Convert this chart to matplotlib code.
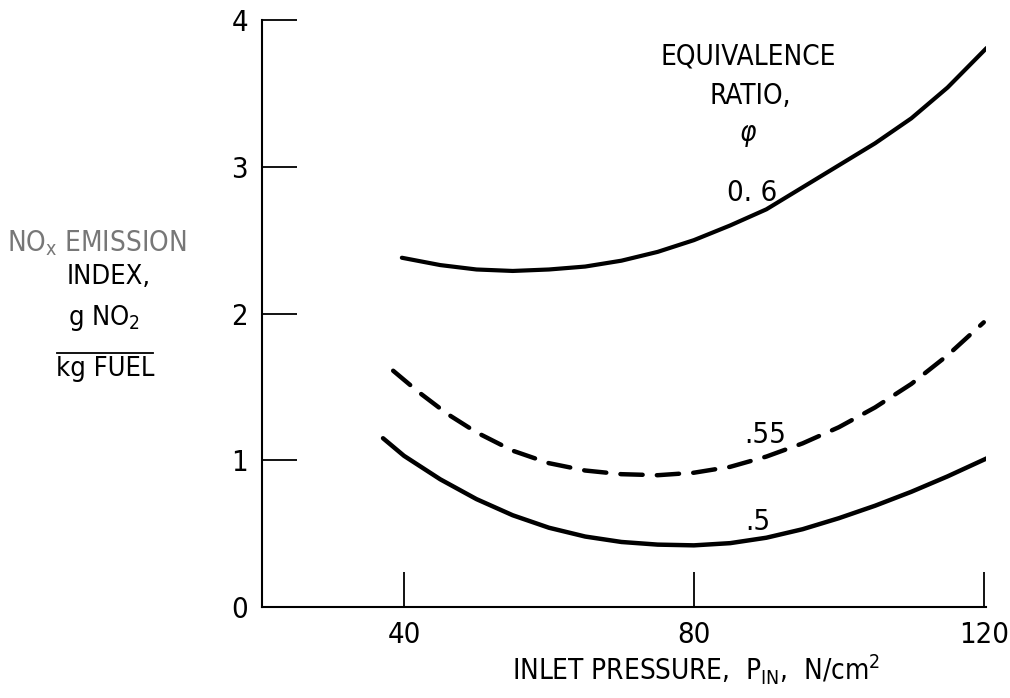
import matplotlib
matplotlib.use('Agg')
import matplotlib.pyplot as plt

plt.rcParams['font.family'] = ['DejaVu Sans']
plt.rcParams['font.stretch'] = 'condensed'
plt.rcParams['mathtext.fontset'] = 'custom'
plt.rcParams['mathtext.rm'] = 'DejaVu Sans:stretch=condensed'
plt.rcParams['mathtext.it'] = 'DejaVu Sans:italic:stretch=condensed'

# equivalence ratio 0.5 (solid)
p_05 = [37.1, 40, 45, 50, 55, 60, 65, 70, 75, 80, 85, 90, 95, 100, 105, 110, 115, 120.5]
ei_05 = [1.15, 1.03, 0.87, 0.735, 0.625, 0.54, 0.48, 0.443, 0.425, 0.42, 0.435, 0.472, 0.53, 0.605, 0.69, 0.785, 0.89, 1.015]

# equivalence ratio 0.55 (dashed)
p_055 = [38.5, 42, 46, 50, 55, 60, 65, 70, 75, 80, 85, 90, 95, 100, 105, 110, 115, 120]
ei_055 = [1.61, 1.465, 1.315, 1.19, 1.065, 0.98, 0.93, 0.905, 0.898, 0.915, 0.955, 1.025, 1.115, 1.225, 1.36, 1.52, 1.715, 1.94]

# equivalence ratio 0.6 (solid)
p_06 = [39.7, 45, 50, 55, 60, 65, 70, 75, 80, 85, 90, 95, 100, 105, 110, 115, 120.4]
ei_06 = [2.38, 2.33, 2.30, 2.29, 2.30, 2.32, 2.36, 2.42, 2.50, 2.60, 2.71, 2.86, 3.01, 3.16, 3.33, 3.54, 3.81]

xticks = [40, 80, 120]
yticks = [0, 1, 2, 3, 4]

fig = plt.figure(figsize=(10.1, 6.98), dpi=100)
ax = fig.add_axes([0.2594, 0.1304, 0.9762 - 0.2594, 0.9713 - 0.1304])

ax.plot(p_05, ei_05, 'k-', lw=3.2, solid_capstyle='round', solid_joinstyle='round')
ax.plot(p_055, ei_055, 'k-', lw=3.2, dashes=(5, 3.2), dash_capstyle='round')
ax.plot(p_06, ei_06, 'k-', lw=3.0, solid_capstyle='round', solid_joinstyle='round')

ax.set_xlim(20.4, 120.3)
ax.set_ylim(0, 4)
ax.set_xticks(xticks)
ax.set_yticks(yticks)
ax.tick_params(direction='in', length=25, width=1.3, labelsize=21, pad=10)
for s in ['top', 'right']:
    ax.spines[s].set_visible(False)
for s in ['left', 'bottom']:
    ax.spines[s].set_linewidth(1.5)

# curve labels
ax.text(88, 2.82, '0. 6', fontsize=21, ha='center', va='center')
ax.text(89.8, 1.17, '.55', fontsize=21, ha='center', va='center')
ax.text(88.8, 0.58, '.5', fontsize=21, ha='center', va='center')

# legend title
fig.text(748 / 1010, 1 - 57 / 698, 'EQUIVALENCE', fontsize=20, ha='center', va='center')
fig.text(750 / 1010, 1 - 96 / 698, 'RATIO,', fontsize=20, ha='center', va='center')
fig.text(748 / 1010, 1 - 135 / 698, r'$\varphi$', fontsize=20, ha='center', va='center')

# y axis label block
fig.text(97 / 1010, 1 - 243 / 698, r'NO$_{\rm x}$ EMISSION', fontsize=20, ha='center', va='center', color='#777777')
fig.text(109 / 1010, 1 - 277 / 698, 'INDEX,', fontsize=19.5, ha='center', va='center')
fig.text(104 / 1010, 1 - 318 / 698, r'g NO$_2$', fontsize=19.5, ha='center', va='center')
fig.add_artist(plt.Line2D([57 / 1010, 153 / 1010], [1 - 353 / 698, 1 - 353 / 698], color='k', lw=1.3))
fig.text(105 / 1010, 1 - 369 / 698, 'kg FUEL', fontsize=19.5, ha='center', va='center')

# x axis label
fig.text(696 / 1010, 1 - 670 / 698, r'INLET PRESSURE,  P$_{\rm IN}$,  N/cm$^2$', fontsize=20, ha='center', va='center')

fig.savefig('out.png', dpi=100)
